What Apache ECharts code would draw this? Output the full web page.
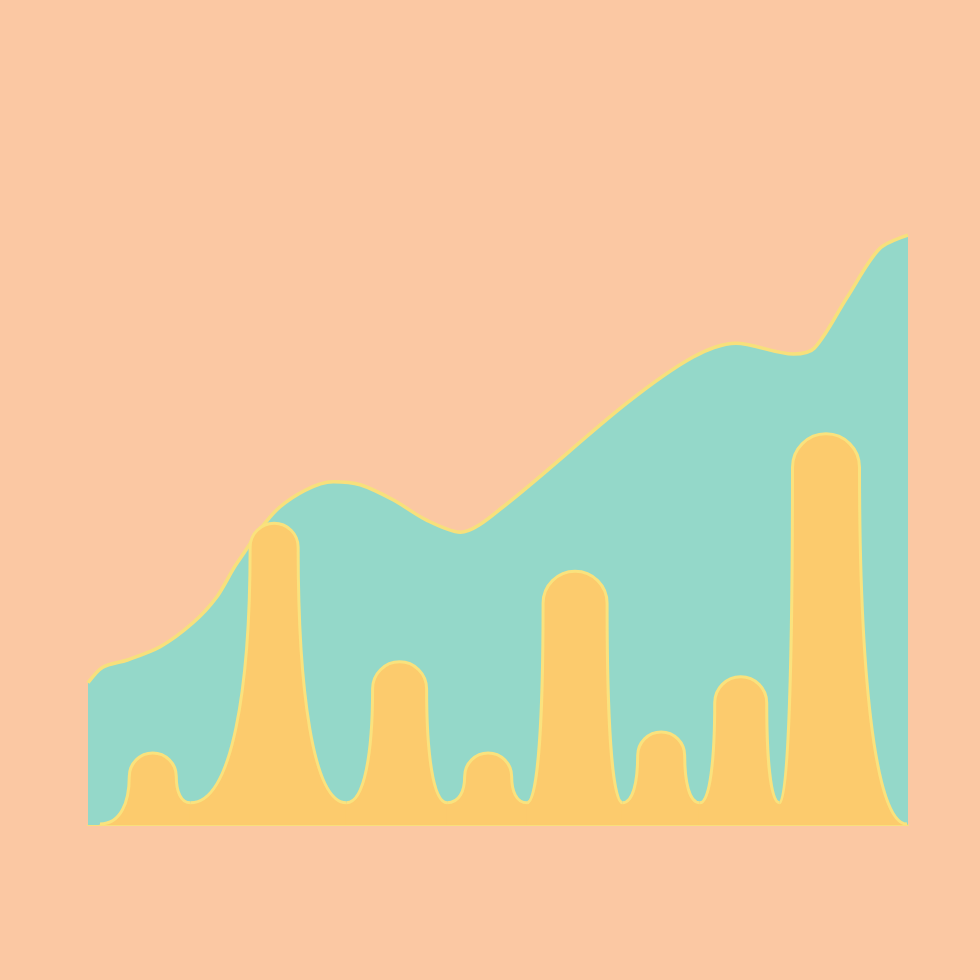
<!DOCTYPE html>
<html>
<head>
<meta charset="utf-8">
<title>chart</title>
<script src="https://cdn.jsdelivr.net/npm/echarts@6/dist/echarts.min.js"></script>
<style>
  html, body { margin: 0; padding: 0; background: #fbc8a3; }
  #main { width: 980px; height: 980px; }
</style>
</head>
<body>
<div id="main"></div>
<script>
// teal background curve
var tealX = [0, 1.8, 4.8, 8.8, 12.8, 15.7, 18.2, 23.4, 29.9, 33.2, 37.2, 41.3, 45.4, 50.6, 65.7, 73.8, 79.0, 86.0, 88.6, 92.6, 96.5, 100];
var tealY = [23.7, 26.3, 27.5, 29.7, 33.7, 38.0, 43.7, 53.0, 57.2, 56.7, 54.2, 50.8, 48.8, 53.0, 70.3, 78.0, 80.3, 78.5, 79.5, 88.0, 96.0, 98.3];

// yellow columns
var barX = [7.9, 22.7, 38.0, 48.8, 59.4, 69.9, 79.6, 90.0];
var barValues = [12.0, 50.3, 27.2, 12.0, 42.3, 15.5, 24.7, 65.2];

(function () {
  var myChart = echarts.init(document.getElementById('main'));
  var barWidthPx = [47, 48, 54, 47, 64, 47, 52, 67];
  var valleyLevel = 3.7;

  function edges(j, api) {
    var top = api.coord([barX[j], barValues[j]]);
    var w = barWidthPx[j];
    return { cx: top[0], top: top[1], l: top[0] - w / 2, r: top[0] + w / 2, w: w };
  }

  // where the dip between two columns sits: wide gaps lean toward the lower column
  function valleyX(a, b, baseY) {
    var ha = baseY - a.top, hb = baseY - b.top;
    var gap = b.l - a.r;
    var s = Math.max(0, Math.min(1, (gap - 30) / 40));
    var f = 0.5 + (ha / (ha + hb) - 0.5) * s;
    return a.r + gap * f;
  }

  // one column with its half-valleys on both sides
  function renderBar(params, api) {
    var i = params.dataIndex;
    var cs = params.coordSys;
    var baseY = api.coord([0, 0])[1];
    var vY = api.coord([0, valleyLevel])[1];
    var b = edges(i, api);
    var xl, yl, xr, yr;
    if (i === 0) {
      xl = cs.x + 12; yl = baseY - 1;
    } else {
      xl = valleyX(edges(i - 1, api), b, baseY); yl = vY;
    }
    if (i === barX.length - 1) {
      xr = cs.x + cs.width - 1; yr = baseY - 1;
    } else {
      xr = valleyX(b, edges(i + 1, api), baseY); yr = vY;
    }
    var rad = b.w / 2;
    var capY = b.top + rad;
    var curve =
      'M' + xl + ',' + yl +
      ' C' + (b.l + (xl - b.l) * 0.3) + ',' + yl + ' ' + b.l + ',' + (capY + 0.55 * (yl - capY)) + ' ' + b.l + ',' + capY +
      ' A' + rad + ',' + rad + ' 0 0 1 ' + b.r + ',' + capY +
      ' C' + b.r + ',' + (capY + 0.55 * (yr - capY)) + ' ' + (b.r + (xr - b.r) * 0.3) + ',' + yr + ' ' + xr + ',' + yr;
    // fill overlaps its neighbours a little so no seam shows
    var fill = curve + ' L' + (xr + 1) + ',' + (yr + 1) + ' L' + (xr + 1) + ',' + baseY +
      ' L' + (xl - 1) + ',' + baseY + ' L' + (xl - 1) + ',' + (yl + 1) + ' Z';
    return {
      type: 'group',
      children: [
        { type: 'path', z2: 1, shape: { pathData: fill }, style: { fill: '#fccb6d', stroke: null } },
        { type: 'path', z2: 10, shape: { pathData: curve }, style: { fill: null, stroke: '#fae27d', lineWidth: 3 } }
      ]
    };
  }

  var option = {
    backgroundColor: '#fbc8a3',
    animation: false,
    grid: { left: 88, right: 72, top: 225, bottom: 155 },
    xAxis: {
      type: 'value', min: 0, max: 100,
      axisLabel: { show: false }, axisTick: { show: false }, splitLine: { show: false },
      axisLine: { show: true, lineStyle: { color: '#f8df7c', width: 2 } }
    },
    yAxis: {
      type: 'value', min: 0, max: 100,
      axisLabel: { show: false }, axisTick: { show: false }, splitLine: { show: false },
      axisLine: { show: false }
    },
    series: [
      {
        type: 'line',
        smooth: 0.3,
        symbol: 'none',
        z: 1,
        data: tealX.map(function (x, i) { return [x, tealY[i]]; }),
        lineStyle: { color: '#f7e07c', width: 3.5 },
        areaStyle: { color: '#94d8c9', opacity: 1 }
      },
      {
        type: 'custom',
        z: 3,
        renderItem: renderBar,
        data: barX.map(function (x, i) { return [x, barValues[i]]; })
      }
    ]
  };
  myChart.setOption(option);
  window.addEventListener('resize', function () {
    myChart.resize();
  });
})();
</script>
</body>
</html>
